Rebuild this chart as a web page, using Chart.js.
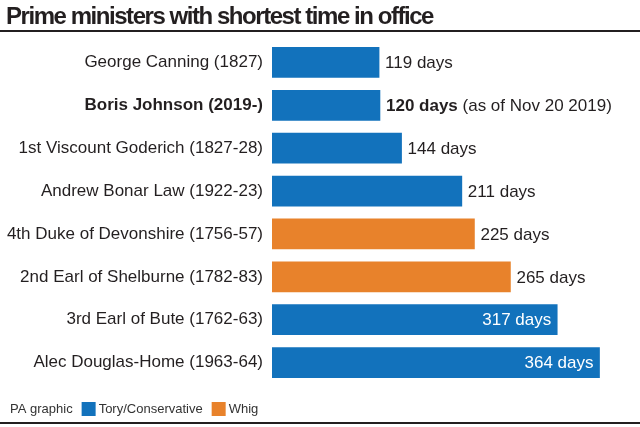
<!DOCTYPE html>
<html>
<head>
<meta charset="utf-8">
<script src="https://cdn.jsdelivr.net/npm/chart.js@4/dist/chart.umd.min.js"></script>
<style>
  html, body { margin: 0; padding: 0; background: #fff; }
  #wrap { width: 640px; height: 427px; position: relative; }
</style>
</head>
<body>
<div id="wrap"><canvas id="chart"></canvas></div>
<script>
const ministers = [
  "George Canning (1827)",
  "Boris Johnson (2019-)",
  "1st Viscount Goderich (1827-28)",
  "Andrew Bonar Law (1922-23)",
  "4th Duke of Devonshire (1756-57)",
  "2nd Earl of Shelburne (1782-83)",
  "3rd Earl of Bute (1762-63)",
  "Alec Douglas-Home (1963-64)"
];
const days = [119, 120, 144, 211, 225, 265, 317, 364];
const party = ["Tory", "Tory", "Tory", "Tory", "Whig", "Whig", "Tory", "Tory"];
const notes = ["", " (as of Nov 20 2019)", "", "", "", "", "", ""];
const partyNames = ["Tory/Conservative", "Whig"];

const BLUE = "#1272bc";
const ORANGE = "#e8822b";
const INK = "#231f20";
const FONT = "'Liberation Sans', Arial, sans-serif";

Chart.defaults.font.family = FONT;
Chart.defaults.color = INK;

// title, rules, footer and value labels
const extras = {
  id: "extras",
  afterDatasetsDraw(chart) {
    const ctx = chart.ctx;
    const meta = chart.getDatasetMeta(0);
    ctx.save();
    ctx.textBaseline = "middle";
    meta.data.forEach((bar, i) => {
      const txt = days[i] + " days";
      if (i >= 6) {
        ctx.font = "17px " + FONT;
        ctx.fillStyle = "#fff";
        ctx.textAlign = "right";
        ctx.fillText(txt, bar.x - 6, bar.y + 1);
      } else {
        let x = bar.x + 6;
        ctx.textAlign = "left";
        ctx.fillStyle = INK;
        ctx.font = (i === 1 ? "bold " : "") + "17px " + FONT;
        ctx.fillText(txt, x, bar.y + 1);
        if (notes[i]) {
          x += ctx.measureText(txt).width;
          ctx.font = "17px " + FONT;
          ctx.fillText(notes[i], x, bar.y + 1);
        }
      }
    });
    ctx.restore();
  },
  afterDraw(chart) {
    const ctx = chart.ctx;
    ctx.save();
    ctx.fillStyle = INK;
    ctx.textBaseline = "alphabetic";
    ctx.textAlign = "left";
    ctx.font = "bold 24px " + FONT;
    ctx.letterSpacing = "-1.45px";
    ctx.fillText("Prime ministers with shortest time in office", 6, 24);
    ctx.letterSpacing = "0px";
    ctx.fillRect(0, 30, 640, 2);
    ctx.fillRect(0, 422, 640, 2);

    ctx.font = "13px " + FONT;
    ctx.fillStyle = "#333";
    ctx.textBaseline = "middle";
    let x = 10;
    ctx.fillText("PA graphic", x, 409);
    x += ctx.measureText("PA graphic").width + 9;
    [BLUE, ORANGE].forEach((c, k) => {
      ctx.fillStyle = c;
      ctx.fillRect(x, 402, 14, 14);
      x += 17;
      ctx.fillStyle = "#333";
      ctx.fillText(partyNames[k], x, 409);
      x += ctx.measureText(partyNames[k]).width + 9;
    });
    ctx.restore();
  }
};

new Chart(document.getElementById("chart"), {
  type: "bar",
  data: {
    labels: ministers,
    datasets: [{
      data: days,
      backgroundColor: party.map(p => p === "Whig" ? ORANGE : BLUE),
      barThickness: 30
    }]
  },
  options: {
    indexAxis: "y",
    responsive: true,
    maintainAspectRatio: false,
    animation: false,
    layout: { padding: { top: 41, bottom: 43, left: 0, right: 0 } },
    plugins: { legend: { display: false }, tooltip: { enabled: false } },
    scales: {
      x: { display: false, min: 0, max: 409 },
      y: {
        afterFit(s) { s.width = 272; },
        grid: { display: false, drawTicks: false },
        border: { display: false },
        ticks: {
          padding: 9,
          color: INK,
          font: c => ({ size: 17, weight: c.index === 1 ? "bold" : "normal" })
        }
      }
    }
  },
  plugins: [extras]
});
</script>
</body>
</html>
